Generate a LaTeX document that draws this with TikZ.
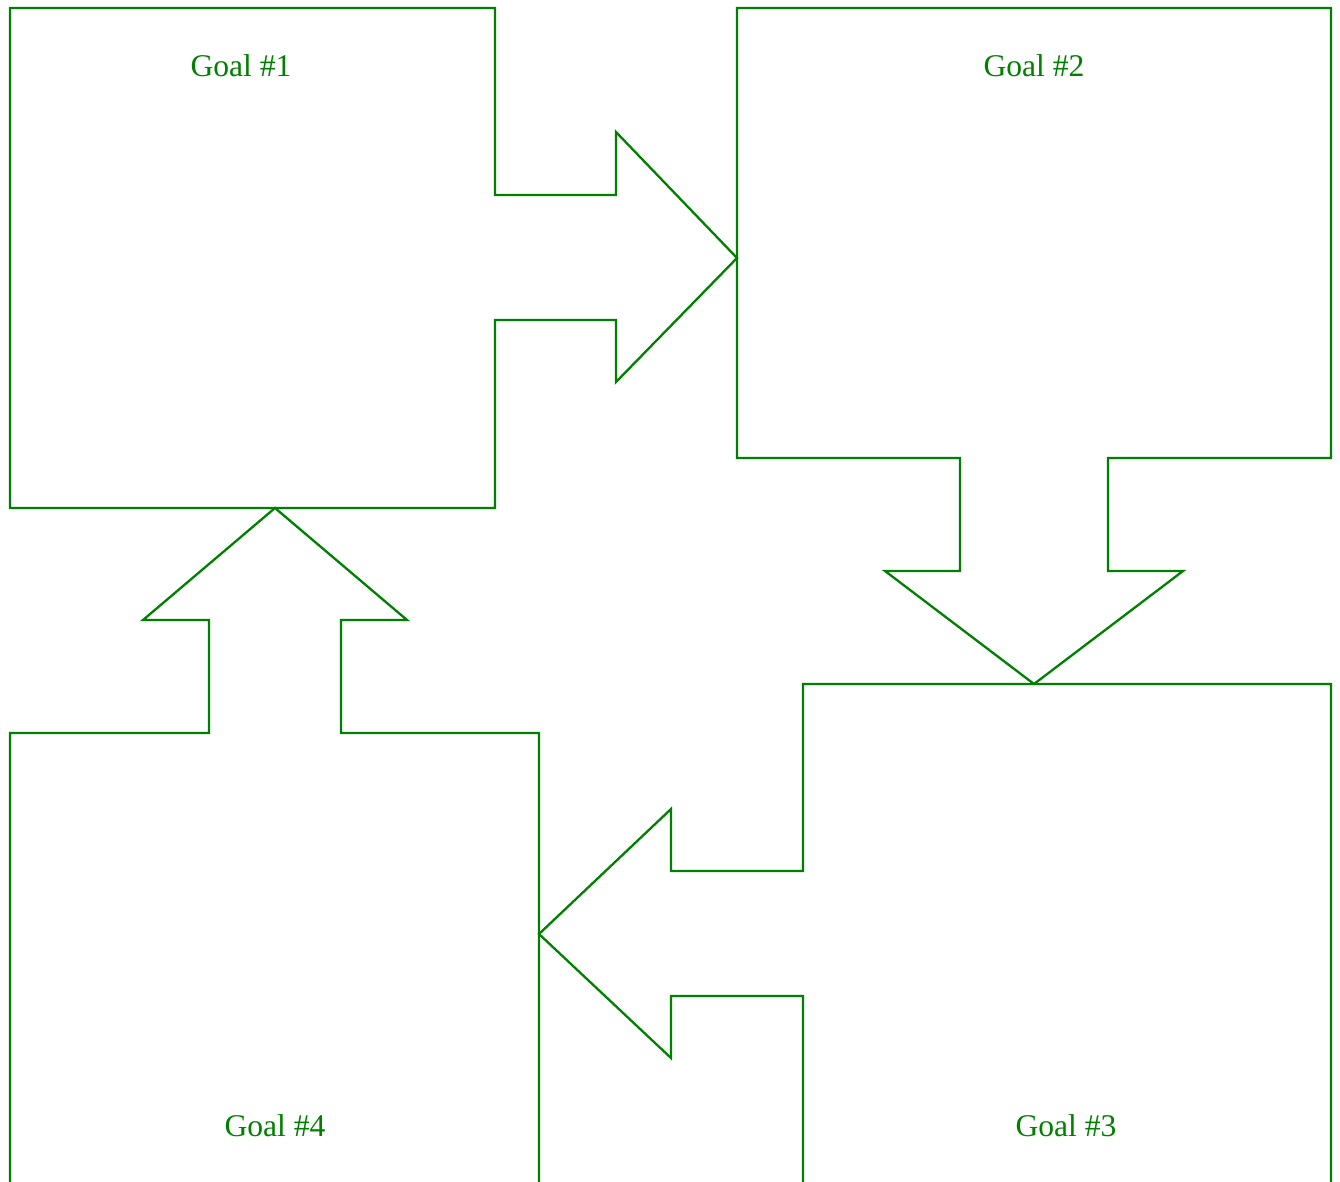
\documentclass[tikz,border=0pt]{standalone}
\usepackage{fontspec}
\setmainfont{Liberation Serif}
\definecolor{goalgreen}{RGB}{0,128,0}
\begin{document}
\begin{tikzpicture}[x=1pt,y=-1pt,
  goalshape/.style={draw=goalgreen,line width=2.3pt,line join=miter},
  goallabel/.style={text=goalgreen,inner sep=0pt,font=\fontsize{31.6}{36}\selectfont}]
\useasboundingbox (0,0) rectangle (1340,1182);
\clip (0,0) rectangle (1340,1182);
% Goal 1 with right arrow
\draw[goalshape] (10,8) -- (495,8) -- (495,195) -- (616,195) -- (616,132) -- (737,258)
  -- (616,382) -- (616,320) -- (495,320) -- (495,508) -- (10,508) -- cycle;
% Goal 2 with down arrow
\draw[goalshape] (737,8) -- (1331,8) -- (1331,458) -- (1108,458) -- (1108,571) -- (1183,571)
  -- (1034,684) -- (885,571) -- (960,571) -- (960,458) -- (737,458) -- cycle;
% Goal 3 with left arrow
\draw[goalshape] (1331,1200) -- (1331,684) -- (803,684) -- (803,871) -- (671,871) -- (671,809)
  -- (539,934) -- (671,1058) -- (671,996) -- (803,996) -- (803,1200);
% Goal 4 with up arrow
\draw[goalshape] (10,1200) -- (10,733) -- (209,733) -- (209,620) -- (143,620) -- (275,508)
  -- (407,620) -- (341,620) -- (341,733) -- (539,733) -- (539,1200);
\node[goallabel] (g1) at (241,66) {Goal \#1};
\node[goallabel] (g2) at (1034,66) {Goal \#2};
\node[goallabel] (g3) at (1066,1126) {Goal \#3};
\node[goallabel] (g4) at (275,1126) {Goal \#4};
\end{tikzpicture}
\end{document}
